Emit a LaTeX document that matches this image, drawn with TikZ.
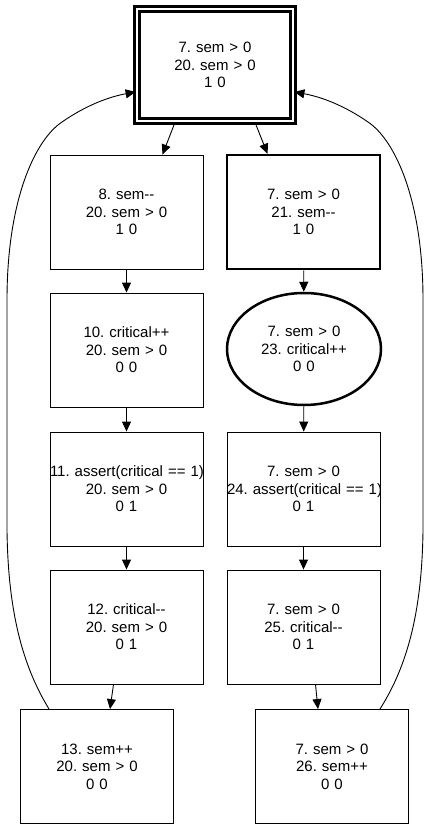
\documentclass[tikz,border=0pt]{standalone}
\usepackage{fontspec}
\setmainfont{Liberation Sans}
\usetikzlibrary{arrows.meta,shapes.geometric}
\begin{document}
\begin{tikzpicture}[x=1pt,y=-1pt,
  every node/.style={font=\fontsize{15}{17.5}\selectfont\frenchspacing, align=center, inner sep=0pt, text width=153pt},
  box/.style={draw, rectangle, line width=0.9pt, minimum width=153pt, minimum height=114pt},
  thickbox/.style={box, line width=2.5pt},
  topbox/.style={draw, rectangle, line width=2.8pt, double, double distance=1.6pt, minimum width=156pt, minimum height=112pt},
  ell/.style={draw, ellipse, line width=2.5pt, minimum width=154pt, minimum height=112pt, text width=100pt},
  arr/.style={line width=0.9pt, -{Triangle[length=10pt,width=9pt]}}]
\useasboundingbox (0,0) rectangle (430,829);

\node[topbox] (top) at (215,65) {7. sem > 0\\20. sem > 0\\1 0};

\node[box] (n8)  at (126.5,212) {8. sem{-}{-}\\20. sem > 0\\1 0};
\node[box] (n10) at (126.5,350) {10. critical++\\20. sem > 0\\0 0};
\node[box] (n11) at (126.5,489) {\mbox{11. assert(critical == 1)}\\20. sem > 0\\0 1};
\node[box] (n12) at (126.5,627) {12. critical{-}{-}\\20. sem > 0\\0 1};
\node[box] (n13) at (97,766.5) {13. sem++\\20. sem > 0\\0 0};

\node[thickbox] (n21) at (303.5,212) {7. sem > 0\\21. sem{-}{-}\\1 0};
\node[ell] (n23) at (304,349) {7. sem > 0\\23. critical++\\0 0};
\node[box] (n24) at (303.5,489) {7. sem > 0\\\mbox{24. assert(critical == 1)}\\0 1};
\node[box] (n25) at (303.5,627) {7. sem > 0\\25. critical{-}{-}\\0 1};
\node[box] (n26) at (332,766.5) {7. sem > 0\\26. sem++\\0 0};

\draw[arr] ([xshift=-40pt]top.south) -- ([xshift=36pt]n8.north);
\draw[arr] ([xshift=40pt]top.south) -- ([xshift=-36pt]n21.north);
\draw[arr] (n8) -- (n10);
\draw[arr] (n10) -- (n11);
\draw[arr] (n11) -- (n12);
\draw[arr] ([xshift=-13pt]n12.south) -- ([xshift=13pt]n13.north);
\draw[arr] (n21) -- (n23);
\draw[arr] (n23) -- (n24);
\draw[arr] (n24) -- (n25);
\draw[arr] ([xshift=12pt]n25.south) -- ([xshift=-14pt]n26.north);

\draw[arr] ([xshift=29pt]n13.north west) .. controls (22,665) and (8,610) .. (7,530)
  -- (7,300) .. controls (7,200) and (35,140) .. (62,122)
  .. controls (85,106) and (108,97) .. ([yshift=-27pt]top.west);
\draw[arr] ([xshift=-29pt]n26.north east) .. controls (408,665) and (422,610) .. (423,530)
  -- (423,300) .. controls (423,200) and (395,140) .. (368,122)
  .. controls (345,106) and (322,97) .. ([yshift=-27pt]top.east);
\end{tikzpicture}
\end{document}
